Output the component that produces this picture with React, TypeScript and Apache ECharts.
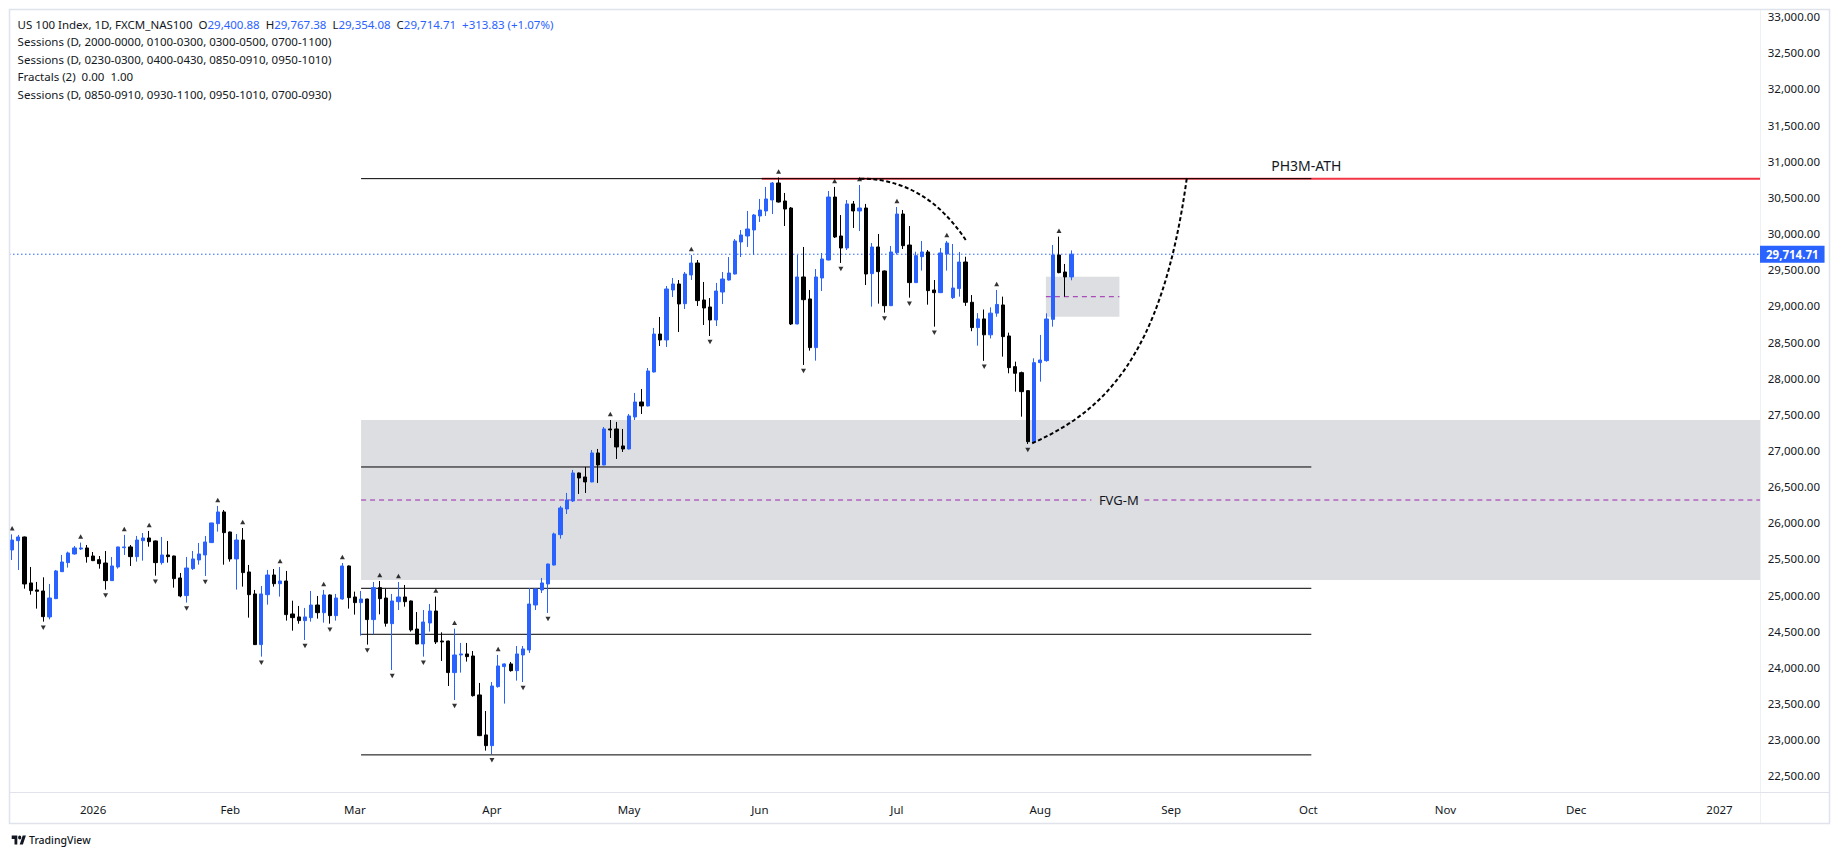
import React, { useEffect, useRef } from "react";
import * as echarts from "echarts";

const FONT = '"Noto Sans", "Liberation Sans", Arial, sans-serif';

// ---------------- data ----------------
const firstSession = Date.UTC(2025, 11, 15); // first plotted weekday
const slotCount = 281; // weekday slots shown on the time axis

const opens = [
  25624, 25753, 25804, 25168, 25071, 25057, 24698, 24951, 25324, 25449,
  25569, 25638, 25652, 25541, 25490, 25444, 25200, 25389, 25656, 25666,
  25532, 25753, 25790, 25749, 25449, 25555, 25541, 25237, 24993, 25366,
  25486, 25555, 25726, 25988, 26150, 25873, 25500, 25762, 25320, 25016,
  24315, 25006, 25278, 25158, 25195, 24739, 24698, 24647, 24688, 24863,
  24757, 25002, 24716, 24946, 25403, 24974, 24896, 24946, 24661, 25103,
  24960, 24605, 24909, 24974, 24919, 24531, 24324, 24614, 24780, 24365,
  24365, 23928, 24172, 24186, 24158, 23619, 23066, 22918, 23734, 24011,
  24048, 23955, 24172, 24241, 24863, 25071, 25154, 25416, 25836, 26191,
  26302, 26689, 26634, 26565, 26966, 26800, 27298, 27298, 27063, 27021,
  27464, 27671, 27616, 28086, 28611, 28529, 29220, 29303, 29031, 29428,
  29593, 29082, 28985, 28805, 29192, 29358, 29441, 29884, 29967, 30050,
  30244, 30313, 30465, 30700, 30451, 30354, 28750, 29400, 29096, 28423,
  29386, 29635, 30506, 29967, 29801, 30410, 30313, 30354, 29446, 29815,
  29483, 29003, 29736, 30271, 29842, 29322, 29681, 29746, 29220, 29183,
  29718, 29114, 29239, 29607, 29050, 28700, 28820, 28600, 28900, 29013,
  28584, 28160, 28077, 27828, 27122, 28215, 28243, 28814, 29704, 29469,
  29400.88,
];
const highs = [
  25841, 25832, 25810, 25389, 25182, 25246, 25154, 25348, 25555, 25601,
  25679, 25726, 25693, 25596, 25541, 25610, 25527, 25670, 25832, 25693,
  25818, 25859, 25887, 25755, 25804, 25749, 25545, 25306, 25527, 25610,
  25721, 25818, 26000, 26233, 26177, 25878, 25845, 25928, 25417, 25071,
  25126, 25348, 25361, 25389, 25334, 24923, 24850, 24822, 25057, 24988,
  25071, 25010, 25016, 25444, 25410, 25048, 25057, 24950, 25181, 25195,
  25089, 25016, 25181, 25140, 24925, 24766, 24794, 24877, 24979, 24485,
  24370, 24536, 24338, 24338, 24227, 23785, 23397, 23798, 24172, 24055,
  24075, 24296, 24296, 25098, 25090, 25237, 25435, 25864, 26233, 26413,
  26731, 26695, 26772, 27007, 27021, 27325, 27422, 27395, 27298, 27505,
  27796, 27851, 28141, 28695, 28847, 29275, 29386, 29358, 29469, 29704,
  29635, 29331, 29109, 29317, 29469, 29676, 29925, 30050, 30313, 30271,
  30479, 30645, 30714, 30776, 30562, 30368, 29704, 29815, 29220, 29510,
  29732, 30589, 30645, 30257, 30465, 30451, 30672, 30410, 29870, 29995,
  29490, 29829, 30368, 30326, 30105, 29750, 29898, 29773, 29358, 29801,
  29898, 29856, 29746, 29680, 29150, 28900, 28950, 28980, 29220, 29128,
  28630, 28229, 28091, 27833, 28275, 28598, 28897, 29842, 29958, 29580,
  29767.38,
];
const lows = [
  25486, 25348, 25089, 25006, 24813, 24633, 24665, 24945, 25320, 25380,
  25560, 25624, 25449, 25470, 25366, 25076, 25195, 25366, 25555, 25403,
  25463, 25477, 25670, 25269, 25421, 25449, 25103, 24970, 24896, 25348,
  25421, 25265, 25720, 25878, 25421, 25463, 25076, 25117, 24688, 24310,
  24149, 24868, 25117, 24979, 24647, 24508, 24605, 24379, 24633, 24675,
  24619, 24605, 24647, 24937, 24813, 24730, 24439, 24315, 24458, 24734,
  24564, 23964, 24794, 24840, 24495, 24320, 24149, 24495, 24324, 24089,
  23743, 23549, 23928, 24080, 23596, 23050, 22849, 22800, 23720, 23499,
  23941, 23817, 23798, 24200, 24794, 25029, 24753, 25410, 25781, 26122,
  26288, 26399, 26413, 26560, 26551, 26795, 27173, 26883, 26980, 27015,
  27422, 27505, 27610, 28080, 28446, 28432, 29123, 28639, 28957, 29358,
  28999, 28736, 28584, 28722, 29027, 29350, 29435, 29676, 29815, 29704,
  30161, 30244, 30271, 30430, 30105, 28736, 28745, 28183, 28381, 28243,
  29206, 29630, 29939, 29594, 29773, 30078, 30036, 29289, 28990, 29031,
  28907, 28998, 29709, 29787, 29114, 29316, 29488, 29017, 28713, 29178,
  29488, 29095, 29128, 29000, 28650, 28450, 28240, 28550, 28850, 28298,
  28068, 27814, 27468, 27090, 27105, 27952, 28229, 28713, 29451, 29128,
  29354.08,
];
const closes = [
  25762, 25804, 25154, 25062, 25053, 24702, 24960, 25334, 25458, 25583,
  25652, 25652, 25532, 25477, 25435, 25200, 25403, 25666, 25666, 25532,
  25762, 25790, 25739, 25449, 25555, 25532, 25228, 24988, 25375, 25500,
  25569, 25735, 25998, 26150, 25864, 25500, 25762, 25311, 25006, 24315,
  25016, 25278, 25158, 25195, 24730, 24688, 24647, 24698, 24863, 24757,
  25002, 24716, 24960, 25403, 24965, 24896, 24946, 24661, 25103, 24951,
  24610, 24919, 24974, 24909, 24518, 24324, 24628, 24780, 24352, 24352,
  23928, 24172, 24186, 24149, 23609, 23056, 22918, 23743, 24020, 24048,
  23955, 24186, 24255, 24877, 25085, 25168, 25430, 25846, 26205, 26316,
  26689, 26620, 26565, 26966, 26800, 27298, 27284, 27049, 27021, 27478,
  27671, 27616, 28100, 28611, 28529, 29234, 29303, 29027, 29441, 29593,
  29073, 28971, 28805, 29206, 29372, 29455, 29898, 29981, 30064, 30257,
  30326, 30479, 30700, 30437, 30340, 28750, 29400, 29086, 28423, 29400,
  29649, 30506, 29953, 29801, 30410, 30313, 30354, 29441, 29815, 29474,
  29003, 29746, 30271, 29833, 29322, 29695, 29746, 29211, 29183, 29732,
  29870, 29248, 29607, 29050, 28700, 28820, 28600, 28900, 29020, 28575,
  28146, 28068, 27814, 27122, 28215, 28252, 28819, 29704, 29460, 29400.88,
  29714.71,
];

// Williams fractals (candle numbers, 1-based)
const fractalUp = [1, 12, 19, 23, 34, 38, 44, 51, 54, 60, 63, 69, 72, 79, 97, 110, 124, 133, 137, 143, 151, 159, 169];
const fractalDown = [6, 16, 24, 29, 32, 41, 48, 52, 58, 62, 67, 72, 78, 83, 87, 113, 128, 134, 141, 145, 149, 157, 164];

// drawings (x in bar-slot units, y in price)
const levelPrices = [30760, 26772, 25094, 24458, 22790];
const levelFrom = 56;
const levelTo = 208.5;
const athPrice = 30760;
const athRedFrom = 120.3;
const boxes = [
  [56, 280.5, 27422, 25209],
  [165.9, 177.7, 29404, 28851],
];
const fvgMid = 26315;
const fvgMidSegments = [
  [56, 173.2],
  [181.7, 280.5],
];
const smallMid = 29127;
// arcs as cubic curves: start, control 1, control 2, end  (slot, price)
const arcCurves = [
  [136.1, 30760, 144.9, 30760, 150.0, 30306, 153.1, 29903],
  [163.7, 27100, 174.9, 27535, 184.5, 28252, 188.5, 30760],
];
const noteX = [207.7, 177.6];
const noteY = [30942, 26315];
const noteText = ["PH3M-ATH", "FVG-M"];

const yMin = 22276.6;
const yMax = 33106.5;

const legendRows = [
  "Sessions (D, 2000-0000, 0100-0300, 0300-0500, 0700-1100)",
  "Sessions (D, 0230-0300, 0400-0430, 0850-0910, 0950-1010)",
  "Fractals (2)  0.00  1.00",
  "Sessions (D, 0850-0910, 0930-1100, 0950-1010, 0700-0930)",
];
const MONTHS = ["Jan", "Feb", "Mar", "Apr", "May", "Jun", "Jul", "Aug", "Sep", "Oct", "Nov", "Dec"];

// ---------------- helpers ----------------
function buildSlots() {
  const out: Date[] = [];
  let t = firstSession;
  while (out.length < slotCount) {
    const d = new Date(t);
    const wd = d.getUTCDay();
    if (wd !== 0 && wd !== 6) out.push(d);
    t += 86400000;
  }
  return out;
}
const fmt = (v: number) =>
  v.toLocaleString("en-US", { minimumFractionDigits: 2, maximumFractionDigits: 2 });

let logoRegistered = false;
function registerLogo() {
  if (logoRegistered) return;
  logoRegistered = true;
  echarts.graphic.registerShape(
    "tvlogo",
    echarts.graphic.extendPath(
      "M14 22H7V11H0V4h14v18zM28 22h-8l7.5-18h8L28 22zM24 8a4 4 0 1 1-8 0a4 4 0 1 1 8 0z",
      {}
    )
  );
}

function buildOption() {
  const slots = buildSlots();
  const cats = slots.map((d) => d.toISOString().slice(0, 10));
  const monthStart = slots.map((d, i) => i > 0 && d.getUTCMonth() !== slots[i - 1].getUTCMonth());
  const monthLabel = (i: number) => {
    const d = slots[i];
    return d.getUTCMonth() === 0 ? String(d.getUTCFullYear()) : MONTHS[d.getUTCMonth()];
  };

  const n = closes.length;
  const last = closes[n - 1];
  const prev = closes[n - 2];
  const chg = last - prev;
  const pct = (chg / prev) * 100;

  const candleData = opens.map((o, i) => [o, closes[i], lows[i], highs[i]]);

  const lineBase = {
    type: "line",
    xAxisIndex: 1,
    yAxisIndex: 0,
    symbol: "none",
    silent: true,
    animation: false,
  };

  const series: any[] = [
    {
      type: "custom",
      xAxisIndex: 1,
      yAxisIndex: 0,
      silent: true,
      z: 1,
      data: boxes,
      encode: { x: [0, 1], y: [2, 3] },
      renderItem: (_p: any, api: any) => {
        const a = api.coord([api.value(0), api.value(2)]);
        const b = api.coord([api.value(1), api.value(3)]);
        return {
          type: "rect",
          shape: { x: a[0], y: a[1], width: b[0] - a[0], height: b[1] - a[1] },
          style: { fill: "rgba(120,123,134,0.25)" },
        };
      },
    },
    {
      ...lineBase,
      z: 2,
      data: [[athRedFrom, athPrice], [slotCount - 0.5, athPrice]],
      lineStyle: { color: "#f23645", width: 2 },
    },
    ...levelPrices.map((p) => ({
      ...lineBase,
      z: 3,
      data: [[levelFrom, p], [levelTo, p]],
      lineStyle: { color: "#000000", width: 1 },
    })),
    ...fvgMidSegments.map((s) => ({
      ...lineBase,
      z: 3,
      data: [[s[0], fvgMid], [s[1], fvgMid]],
      lineStyle: { color: "#9c27b0", width: 1, type: [5, 4] },
    })),
    {
      ...lineBase,
      z: 3,
      data: [[boxes[1][0], smallMid], [boxes[1][1], smallMid]],
      lineStyle: { color: "#9c27b0", width: 1, type: [5, 4] },
    },
    {
      ...lineBase,
      z: 3,
      data: [[-0.5, last], [slotCount - 0.5, last]],
      lineStyle: { color: "#2962ff", width: 1, type: [1.5, 2.5] },
      endLabel: {
        show: true,
        formatter: () => fmt(last),
        distance: 0,
        color: "#ffffff",
        backgroundColor: "#2962ff",
        fontFamily: FONT,
        fontSize: 11.5,
        fontWeight: "bold",
        padding: [2, 6, 2, 6],
        lineHeight: 13,
      },
    },
    {
      type: "candlestick",
      xAxisIndex: 0,
      yAxisIndex: 0,
      z: 4,
      silent: true,
      barWidth: 3.7,
      data: candleData,
      itemStyle: {
        color: "#2962ff",
        color0: "#000000",
        borderColor: "#2962ff",
        borderColor0: "#000000",
        borderColorDoji: "#2962ff",
        borderWidth: 1,
      },
    },
    {
      type: "scatter",
      xAxisIndex: 0,
      yAxisIndex: 0,
      z: 5,
      silent: true,
      symbol: "triangle",
      symbolSize: [5, 4.5],
      symbolOffset: [0, -6],
      itemStyle: { color: "#000000" },
      data: fractalUp.map((k) => [k - 1, highs[k - 1]]),
    },
    {
      type: "scatter",
      xAxisIndex: 0,
      yAxisIndex: 0,
      z: 5,
      silent: true,
      symbol: "triangle",
      symbolRotate: 180,
      symbolSize: [5, 4.5],
      symbolOffset: [0, 6],
      itemStyle: { color: "#000000" },
      data: fractalDown.map((k) => [k - 1, lows[k - 1]]),
    },
    {
      type: "custom",
      xAxisIndex: 1,
      yAxisIndex: 0,
      silent: true,
      z: 6,
      data: arcCurves,
      encode: { x: [0, 2, 4, 6], y: [1, 3, 5, 7] },
      renderItem: (_p: any, api: any) => {
        const p0 = api.coord([api.value(0), api.value(1)]);
        const p1 = api.coord([api.value(2), api.value(3)]);
        const p2 = api.coord([api.value(4), api.value(5)]);
        const p3 = api.coord([api.value(6), api.value(7)]);
        return {
          type: "bezierCurve",
          shape: {
            x1: p0[0], y1: p0[1],
            cpx1: p1[0], cpy1: p1[1],
            cpx2: p2[0], cpy2: p2[1],
            x2: p3[0], y2: p3[1],
          },
          style: { stroke: "#000000", lineWidth: 2, lineDash: [4, 2.5], fill: "none" },
        };
      },
    },
    {
      type: "custom",
      xAxisIndex: 1,
      yAxisIndex: 0,
      silent: true,
      z: 7,
      data: noteX.map((x, i) => [x, noteY[i], i]),
      encode: { x: 0, y: 1 },
      renderItem: (_p: any, api: any) => {
        const i = api.value(2);
        const p = api.coord([api.value(0), api.value(1)]);
        return {
          type: "text",
          x: p[0],
          y: p[1],
          style: {
            text: noteText[i],
            fill: "#131722",
            font: `${i === 0 ? 14 : 13}px ${FONT}`,
            align: "center",
            verticalAlign: "middle",
          },
        };
      },
    },
  ];

  const rich = {
    t: { fill: "#131722", fontSize: 11.5, fontFamily: FONT },
    v: { fill: "#2962ff", fontSize: 11.5, fontFamily: FONT },
  };
  const header =
    `{t|US 100 Index, 1D, FXCM_NAS100}  {t|O}{v|${fmt(opens[n - 1])}}  {t|H}{v|${fmt(highs[n - 1])}}  ` +
    `{t|L}{v|${fmt(lows[n - 1])}}  {t|C}{v|${fmt(last)}}  {v|${chg >= 0 ? "+" : ""}${fmt(chg)} (${chg >= 0 ? "+" : ""}${pct.toFixed(2)}%)}`;

  const graphic: any[] = [
    {
      type: "rect",
      silent: true,
      z: 100,
      shape: { x: 9.5, y: 9.5, width: 1820, height: 814 },
      style: { fill: "none", stroke: "#e0e3eb", lineWidth: 1.5 },
    },
    {
      type: "line",
      silent: true,
      z: 100,
      shape: { x1: 9.5, y1: 792.5, x2: 1829.5, y2: 792.5 },
      style: { stroke: "#e0e3eb", lineWidth: 1 },
    },
    {
      type: "line",
      silent: true,
      z: 1,
      shape: { x1: 1760.5, y1: 9.5, x2: 1760.5, y2: 823.5 },
      style: { stroke: "#eef0f4", lineWidth: 1 },
    },
    {
      type: "text",
      x: 17.6,
      y: 24,
      z: 100,
      style: { text: header, rich, font: `11.5px ${FONT}`, fill: "#131722", verticalAlign: "middle" },
    },
    ...legendRows.map((row, i) => ({
      type: "text",
      x: 17.6,
      y: 41.6 + i * 17.6,
      z: 100,
      style: { text: row, font: `11.5px ${FONT}`, fill: "#131722", verticalAlign: "middle" },
    })),
    {
      type: "tvlogo",
      x: 11.7,
      y: 833.5,
      scaleX: 0.4,
      scaleY: 0.5,
      z: 100,
      style: { fill: "#131722" },
    },
    {
      type: "text",
      x: 29,
      y: 840,
      z: 100,
      style: { text: "TradingView", font: `500 10.5px ${FONT}`, fill: "#131722", verticalAlign: "middle" },
    },
  ];

  return {
    animation: false,
    backgroundColor: "#ffffff",
    grid: { left: 9, right: 80, top: 9, bottom: 66, containLabel: false },
    xAxis: [
      {
        type: "category",
        data: cats,
        boundaryGap: true,
        axisLine: { show: false },
        axisTick: { show: false },
        splitLine: { show: false },
        axisLabel: {
          interval: (i: number) => monthStart[i],
          formatter: (_v: string, i: number) => (monthStart[i] ? monthLabel(i) : ""),
          color: "#131722",
          fontFamily: FONT,
          fontSize: 11.5,
          margin: 11,
        },
      },
      { type: "value", min: -0.5, max: slotCount - 0.5, show: false },
    ],
    yAxis: {
      type: "value",
      position: "right",
      min: yMin,
      max: yMax,
      splitNumber: 22,
      axisLine: { show: false },
      axisTick: { show: false },
      splitLine: { show: false },
      axisLabel: {
        showMinLabel: false,
        showMaxLabel: false,
        align: "right",
        margin: 60,
        color: "#131722",
        fontFamily: FONT,
        fontSize: 11.5,
        formatter: (v: number) => (Math.abs(v / 500 - Math.round(v / 500)) < 1e-6 ? fmt(v) : ""),
      },
    },
    series,
    graphic,
  };
}

export default function App() {
  const ref = useRef<HTMLDivElement>(null);
  useEffect(() => {
    if (!ref.current) return;
    registerLogo();
    const chart = echarts.init(ref.current, null, { renderer: "svg" });
    chart.setOption(buildOption() as any);
    return () => chart.dispose();
  }, []);
  return (
    <div
      ref={ref}
      style={{ position: "fixed", left: 0, top: 0, width: 1840, height: 858, background: "#ffffff" }}
    />
  );
}
